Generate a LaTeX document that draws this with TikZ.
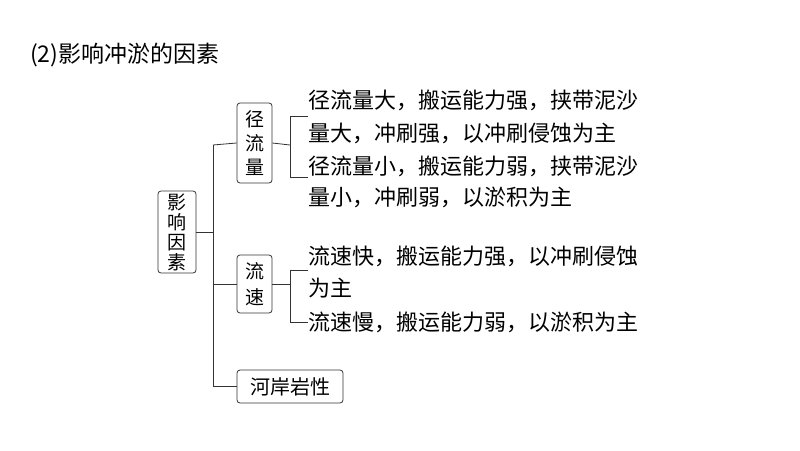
\documentclass[tikz,border=0pt]{standalone}
\usepackage{fontspec}
\setmainfont{Liberation Serif}
\newfontfamily\cjk{Noto Sans CJK SC}
\begin{document}
\begin{tikzpicture}[x=1pt,y=-1pt,
  box/.style={draw=black!80,line width=0.8pt,rounded corners=3pt,inner sep=0pt},
  txt/.style={anchor=west,inner sep=0pt,font=\cjk\fontsize{22}{24}\selectfont},
  ln/.style={draw=black!80,line width=0.8pt}]
\useasboundingbox (0,0) rectangle (800,450);
\node[txt] (title) at (30,55) {\fontsize{23}{25}\selectfont(2)\cjk 影响冲淤的因素};
\node[box,minimum width=38pt,minimum height=82pt,align=center,font=\cjk\fontsize{19}{20}\selectfont] (root) at (177,232) {影\\响\\因\\素};
\node[box,minimum width=35pt,minimum height=80pt,align=center,font=\cjk\fontsize{19}{24}\selectfont] (a) at (254.5,143) {径\\流\\量};
\node[box,minimum width=35pt,minimum height=58pt,align=center,font=\cjk\fontsize{19}{26}\selectfont] (b) at (254.5,284) {流\\速};
\node[box,minimum width=106pt,minimum height=33pt,font=\cjk\fontsize{20}{21}\selectfont] (c) at (290,386.5) {河岸岩性};
\coordinate (v1) at (213,145);
\coordinate (v2) at (213,386.5);
\draw[ln] (root.east) -- (213,232);
\draw[ln] (v1) -- (v2);
\draw[ln] (v1) -- (a.west);
\draw[ln] (213,284) -- (b.west);
\draw[ln] (v2) -- (c.west);
\node[txt] (t1) at (308,100) {径流量大，搬运能力强，挟带泥沙};
\node[txt] (t1b) at (308,133) {量大，冲刷强，以冲刷侵蚀为主};
\node[txt] (t2) at (308,166) {径流量小，搬运能力弱，挟带泥沙};
\node[txt] (t2b) at (308,197) {量小，冲刷弱，以淤积为主};
\node[txt] (t3) at (308,256) {流速快，搬运能力强，以冲刷侵蚀};
\node[txt] (t3b) at (308,288) {为主};
\node[txt] (t4) at (308,322) {流速慢，搬运能力弱，以淤积为主};
\draw[ln] (a.east) -- (290,145);
\draw[ln] (290,116) -- (290,177);
\draw[ln] (290,116) -- (t1.west|-0,116);
\draw[ln] (290,177) -- (t2.west|-0,177);
\draw[ln] (b.east) -- (290,284);
\draw[ln] (290,270) -- (290,322);
\draw[ln] (290,270) -- (t3.west|-0,270);
\draw[ln] (290,322) -- (t4.west);
\end{tikzpicture}
\end{document}
